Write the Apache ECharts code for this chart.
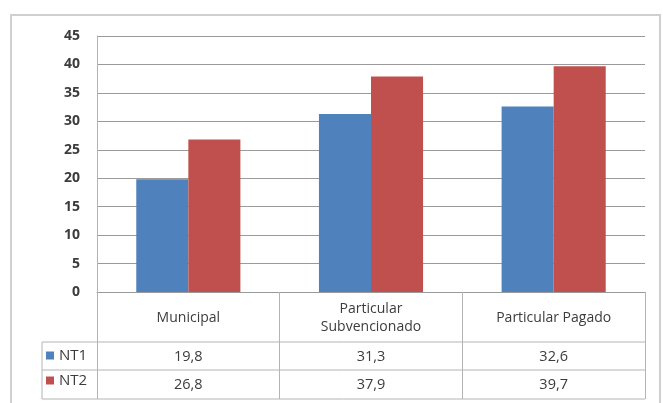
<!DOCTYPE html>
<html><head><meta charset="utf-8">
<script src="https://cdn.jsdelivr.net/npm/echarts@6/dist/echarts.min.js"></script>
<style>html,body{margin:0;padding:0;background:#fff}#c{width:663px;height:403px}</style>
</head><body><div id="c"></div>
<script>
const categories = ['Municipal', 'Particular\nSubvencionado', 'Particular Pagado'];
const seriesNames = ['NT1', 'NT2'];
const nt1 = [19.8, 31.3, 32.6];
const nt2 = [26.8, 37.9, 39.7];
const yTicks = { min: 0, max: 45, interval: 5 };

const fmt = v => v.toFixed(1).replace('.', ',');
const FONT = 'Open Sans';
const TXT = '#3c3c3c';
const LINE = '#b4b4b4';

const chart = echarts.init(document.getElementById('c'), null, { renderer: 'canvas' });
const gridL = 97, gridR = 18, gridT = 36, gridB = 111;
const W = 663, H = 403;
const x1 = W - gridR;

function valueAxis(vals, margin) {
  return {
    type: 'category', data: categories, position: 'bottom', gridIndex: 0,
    axisLine: { show: false }, axisTick: { show: false }, splitLine: { show: false },
    axisLabel: { margin: margin, verticalAlign: 'middle', fontFamily: FONT, fontSize: 14.5, color: TXT,
      formatter: (v, i) => fmt(vals[i]) }
  };
}

chart.setOption({
  animation: false,
  textStyle: { fontFamily: FONT },
  grid: { left: gridL, right: gridR, top: gridT, bottom: gridB, containLabel: false },
  legend: {
    data: seriesNames, orient: 'vertical', left: 46, top: 348, itemWidth: 8, itemHeight: 8,
    itemGap: 10, icon: 'rect', textStyle: { fontFamily: FONT, fontSize: 15, color: TXT, padding: [0, 0, 0, 0] },
    selectedMode: false, padding: 0
  },
  xAxis: [
    {
      type: 'category', data: categories, position: 'bottom',
      axisLine: { show: true, lineStyle: { color: '#9a9a9a', width: 1 } },
      axisTick: { show: true, alignWithLabel: false, length: 107, lineStyle: { color: LINE } },
      axisLabel: { margin: 26, verticalAlign: 'middle', fontFamily: FONT, fontSize: 14, color: TXT, lineHeight: 18, interval: 0 }
    },
    valueAxis(nt1, 65),
    valueAxis(nt2, 93)
  ],
  yAxis: {
    type: 'value', min: yTicks.min, max: yTicks.max, interval: yTicks.interval,
    axisLine: { show: true, lineStyle: { color: LINE } }, axisTick: { show: false },
    axisLabel: { margin: 17, fontFamily: FONT, fontSize: 14, fontWeight: 'bold', color: TXT },
    splitLine: { lineStyle: { color: '#9a9a9a', width: 1 } }
  },
  series: [
    { name: seriesNames[0], type: 'bar', data: nt1, itemStyle: { color: '#4F81BD' }, barGap: '0%', barCategoryGap: '43%' },
    { name: seriesNames[1], type: 'bar', data: nt2, itemStyle: { color: '#C0504D' }, barGap: '0%', barCategoryGap: '43%' }
  ],
  graphic: [
    { type: 'rect', shape: { x: 11, y: 15, width: 649, height: 420 }, style: { fill: 'none', stroke: '#d0d0d0', lineWidth: 2 }, z: 0 },
    { type: 'line', shape: { x1: 42, y1: 342, x2: x1, y2: 342 }, style: { stroke: LINE, lineWidth: 1 } },
    { type: 'line', shape: { x1: 42, y1: 370, x2: x1, y2: 370 }, style: { stroke: LINE, lineWidth: 1 } },
    { type: 'line', shape: { x1: 42, y1: 399, x2: x1, y2: 399 }, style: { stroke: LINE, lineWidth: 1 } },
    { type: 'line', shape: { x1: 42, y1: 342, x2: 42, y2: 399 }, style: { stroke: LINE, lineWidth: 1 } }
  ]
});
</script></body></html>
